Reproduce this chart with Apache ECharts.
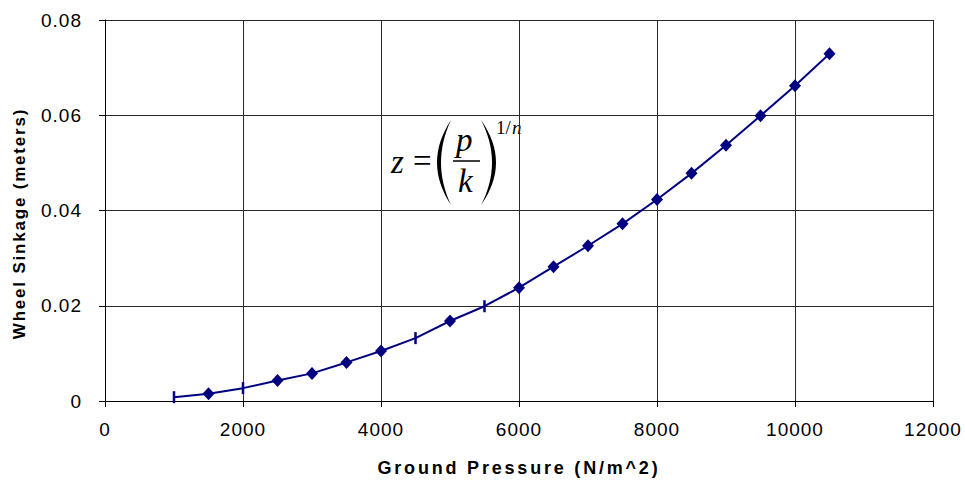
<!DOCTYPE html>
<html>
<head>
<meta charset="utf-8">
<script src="https://cdn.jsdelivr.net/npm/echarts@6/dist/echarts.min.js"></script>
<style>
  html, body { margin: 0; padding: 0; background: #fff; }
  #chart { width: 965px; height: 482px; }
  #chart text { letter-spacing: 1px; }
  #chart text[style*="bold"] { letter-spacing: 1.8px; }
  #chart text[style*="bold"][style*="18px"] { letter-spacing: 2.8px; }
  #chart text[style*="Serif"] { letter-spacing: 0; }
</style>
</head>
<body>
<div id="chart"></div>
<script>
// Data
const pressure = [1000, 1500, 2000, 2500, 3000, 3500, 4000, 4500, 5000, 5500,
                  6000, 6500, 7000, 7500, 8000, 8500, 9000, 9500, 10000, 10500];
const sinkage  = [0.0008, 0.0015, 0.0027, 0.0043, 0.0058, 0.0081, 0.0105, 0.0132, 0.0168, 0.0199,
                  0.0238, 0.0282, 0.0326, 0.0372, 0.0423, 0.0478, 0.0537, 0.0599, 0.0662, 0.0729];
const markerKind = ['bar', 'diamond', 'bar', 'diamond', 'diamond', 'diamond', 'diamond', 'bar', 'diamond', 'bar',
                    'diamond', 'diamond', 'diamond', 'diamond', 'diamond', 'diamond', 'diamond', 'diamond', 'diamond', 'diamond'];
const xTitle = 'Ground Pressure (N/m^2)';
const yTitle = 'Wheel Sinkage (meters)';

const navy = '#000080';
const seriesData = pressure.map((p, i) => {
  const bar = markerKind[i] === 'bar';
  return {
    value: [p, sinkage[i]],
    symbol: bar ? 'rect' : 'diamond',
    symbolSize: bar ? [2.5, 12] : [12, 13]
  };
});

// crescent-shaped parenthesis for the formula annotation
function paren(x, yTop, yBot, outerCx, innerCx) {
  const pts = [];
  const n = 16;
  const ym = (yTop + yBot) / 2;
  for (let i = 0; i <= n; i++) {
    const t = i / n;
    const px = (1 - t) * (1 - t) * x + 2 * (1 - t) * t * outerCx + t * t * x;
    const py = (1 - t) * (1 - t) * yTop + 2 * (1 - t) * t * ym + t * t * yBot;
    pts.push([px, py]);
  }
  for (let i = n; i >= 0; i--) {
    const t = i / n;
    const px = (1 - t) * (1 - t) * x + 2 * (1 - t) * t * innerCx + t * t * x;
    const py = (1 - t) * (1 - t) * yTop + 2 * (1 - t) * t * ym + t * t * yBot;
    pts.push([px, py]);
  }
  return { type: 'polygon', shape: { points: pts }, style: { fill: '#000' }, silent: true };
}
const serif = "'Liberation Serif', 'Times New Roman', serif";
function mtext(txt, x, y, size, italic) {
  return {
    type: 'text', x: x, y: y, silent: true,
    style: {
      text: txt, fill: '#000',
      font: (italic ? 'italic ' : '') + size + 'px ' + serif,
      textAlign: 'left', textVerticalAlign: 'middle'
    }
  };
}

const chart = echarts.init(document.getElementById('chart'), null, { renderer: 'svg' });
chart.setOption({
  animation: false,
  backgroundColor: '#fff',
  grid: { left: 105, right: 32, top: 20, bottom: 79, containLabel: false },
  xAxis: {
    type: 'value', min: 0, max: 12000, interval: 2000,
    name: xTitle, nameLocation: 'middle', nameGap: 58, nameMoveOverlap: false,
    nameTextStyle: { fontFamily: 'Liberation Sans', fontWeight: 'bold', fontSize: 18, color: '#000' },
    axisLine: { show: true, onZero: false, lineStyle: { color: '#000', width: 1 } },
    axisTick: { show: true, length: 6, lineStyle: { color: '#000' } },
    axisLabel: { fontFamily: 'Liberation Sans', fontSize: 19, color: '#000', margin: 19,
                 formatter: v => String(v) },
    splitLine: { show: true, lineStyle: { color: '#2a2a2a', width: 1 } }
  },
  yAxis: {
    type: 'value', min: 0, max: 0.08, interval: 0.02,
    name: yTitle, nameLocation: 'middle', nameGap: 77, nameMoveOverlap: false,
    nameTextStyle: { fontFamily: 'Liberation Sans', fontWeight: 'bold', fontSize: 17, color: '#000', padding: [0, 26, 0, 0] },
    axisLine: { show: true, onZero: false, lineStyle: { color: '#000', width: 1 } },
    axisTick: { show: true, length: 6, lineStyle: { color: '#000' } },
    axisLabel: { fontFamily: 'Liberation Sans', fontSize: 19, color: '#000', margin: 23,
                 formatter: v => (v === 0 ? '0' : v.toFixed(2)) },
    splitLine: { show: true, lineStyle: { color: '#2a2a2a', width: 1 } }
  },
  series: [{
    type: 'line',
    data: seriesData,
    lineStyle: { color: navy, width: 2 },
    itemStyle: { color: navy },
    showAllSymbol: true,
    smooth: false
  }],
  graphic: [
    mtext('z', 391, 162, 33, true),
    mtext('=', 413, 161, 33, false),
    paren(451, 120, 205, 423, 431),
    mtext('p', 456, 140, 33, true),
    { type: 'line', shape: { x1: 453, y1: 161, x2: 480, y2: 161 }, style: { stroke: '#000', lineWidth: 1.5 }, silent: true },
    mtext('k', 458, 181, 33, true),
    paren(481, 120, 205, 511, 503),
    mtext('1/', 496, 127, 19, false),
    mtext('n', 512, 127, 19, true)
  ]
});
</script>
</body>
</html>
